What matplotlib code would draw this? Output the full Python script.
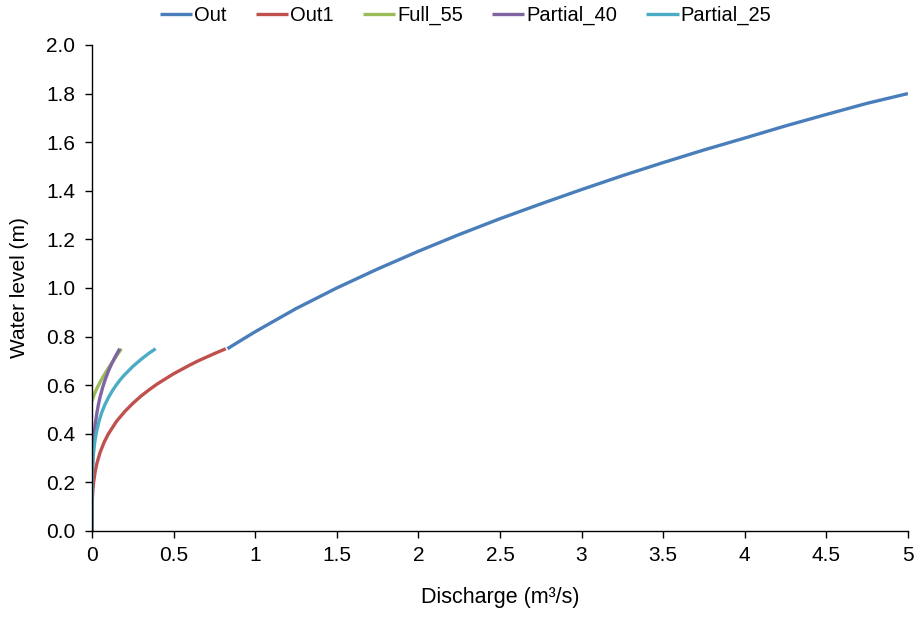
import matplotlib.pyplot as plt
from matplotlib.ticker import FormatStrFormatter, FuncFormatter

plt.rcParams['font.family'] = ['Liberation Sans', 'DejaVu Sans']

# Rating curves (discharge m3/s, level m)
out_q = [0.83, 0.9, 1.0, 1.25, 1.5, 1.75, 2.0, 2.25, 2.5, 2.75, 3.0, 3.25, 3.5,
         3.75, 4.0, 4.25, 4.5, 4.75, 5.0]
out_h = [0.75, 0.779, 0.82, 0.915, 1.0, 1.078, 1.151, 1.22, 1.285, 1.346, 1.405,
         1.462, 1.516, 1.568, 1.617, 1.667, 1.714, 1.76, 1.80]

out1_q = [0.0, 0.001, 0.003, 0.006, 0.01, 0.02, 0.03, 0.05, 0.075, 0.1, 0.15, 0.2,
          0.25, 0.3, 0.35, 0.4, 0.45, 0.5, 0.55, 0.6, 0.65, 0.7, 0.75, 0.82]
out1_h = [0.0, 0.100, 0.139, 0.172, 0.200, 0.246, 0.278, 0.324, 0.366, 0.399, 0.451,
          0.491, 0.525, 0.555, 0.581, 0.605, 0.626, 0.647, 0.665, 0.683, 0.700,
          0.715, 0.730, 0.75]

full55_q = [0.0, 0.01, 0.02, 0.03, 0.04, 0.06, 0.08, 0.1, 0.12, 0.14, 0.16, 0.18]
full55_h = [0.535, 0.555, 0.572, 0.587, 0.60, 0.625, 0.648, 0.67, 0.69, 0.71, 0.73, 0.75]

part40_q = [0.0, 0.0002, 0.0005, 0.001, 0.002, 0.004, 0.007, 0.01, 0.015, 0.02, 0.03,
            0.04, 0.05, 0.065, 0.08, 0.1, 0.12, 0.14, 0.17]
part40_h = [0.0, 0.139, 0.175, 0.208, 0.247, 0.294, 0.338, 0.369, 0.409, 0.439, 0.486,
            0.522, 0.552, 0.590, 0.621, 0.657, 0.687, 0.714, 0.75]

part25_q = [0.0, 0.0005, 0.001, 0.002, 0.004, 0.007, 0.01, 0.015, 0.02, 0.03, 0.045,
            0.06, 0.08, 0.1, 0.125, 0.15, 0.175, 0.2, 0.25, 0.3, 0.35, 0.39]
part25_h = [0.0, 0.162, 0.190, 0.223, 0.262, 0.298, 0.323, 0.355, 0.379, 0.416, 0.456,
            0.488, 0.521, 0.548, 0.577, 0.602, 0.624, 0.643, 0.677, 0.706, 0.732, 0.75]

series = [
    ("Out", out_q, out_h, "#4A7EBB"),
    ("Out1", out1_q, out1_h, "#C0504D"),
    ("Full_55", full55_q, full55_h, "#9BBB59"),
    ("Partial_40", part40_q, part40_h, "#8064A2"),
    ("Partial_25", part25_q, part25_h, "#4BACC6"),
]

fig = plt.figure(figsize=(9.17, 6.17), dpi=100)
ax = fig.add_axes([0.1003, 0.1394, 0.8898, 0.7877])

for name, q, h, c in series:
    ax.plot(q, h, color=c, lw=2.4, label=name, solid_capstyle='butt')

ax.set_xlim(0, 5)
ax.set_ylim(0, 2.0)
ax.set_xticks([0, 0.5, 1, 1.5, 2, 2.5, 3, 3.5, 4, 4.5, 5])
ax.set_yticks([0, 0.2, 0.4, 0.6, 0.8, 1.0, 1.2, 1.4, 1.6, 1.8, 2.0])
ax.xaxis.set_major_formatter(FuncFormatter(lambda v, p: f"{v:g}"))
ax.yaxis.set_major_formatter(FormatStrFormatter('%.1f'))
ax.tick_params(direction='out', length=5, width=1, labelsize=15)
ax.tick_params(axis='y', pad=7)
ax.tick_params(axis='x', pad=6)

for s in ['top', 'right']:
    ax.spines[s].set_visible(False)
for s in ['left', 'bottom']:
    ax.spines[s].set_linewidth(1)

ax.set_xlabel('Discharge (m³/s)', fontsize=15.5, labelpad=16)
ax.set_ylabel('Water level (m)', fontsize=15, labelpad=12)

ax.legend(loc='upper center', bbox_to_anchor=(0.458, 1.11), ncol=5, frameon=False,
          fontsize=14.5, handlelength=1.6, handletextpad=0.1, columnspacing=1.45,
          borderpad=0.2)

plt.savefig('out.png', dpi=100)
